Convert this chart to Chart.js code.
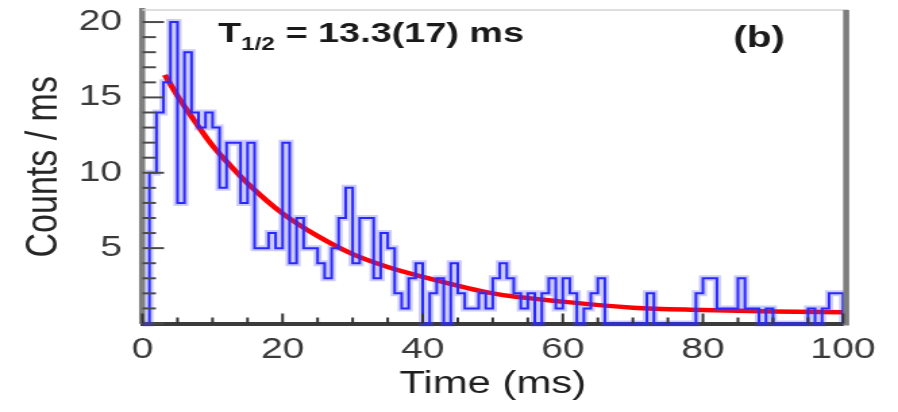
<!DOCTYPE html>
<html>
<head>
<meta charset="utf-8">
<script src="https://cdn.jsdelivr.net/npm/chart.js@4.4.0/dist/chart.umd.min.js"></script>
<style>
  html, body { margin: 0; padding: 0; background: #fff; overflow: hidden; }
  /* the original figure is stretched sideways, so the whole canvas is too */
  #wrap { width: 665px; height: 412px; transform: scaleX(1.35038); transform-origin: 0 0; }
</style>
</head>
<body>
<div id="wrap"><canvas id="decay" width="665" height="412"></canvas></div>
<script>
// ── Datos: histograma de 1 ms por bin, desde 0 ms ──
const counts = [
   0, 10, 14, 16, 20,  8, 18, 14, 13, 14,
  13,  9, 12, 12,  8, 12,  5,  5,  6,  5,
  12,  4,  7,  5,  5,  4,  3,  5,  7,  9,
   4,  7,  7,  3,  6,  5,  2,  1,  3,  4,
   0,  2,  3,  0,  4,  2,  1,  1,  2,  1,
   3,  4,  3,  2,  1,  2,  0,  2,  3,  1,
   3,  2,  0,  1,  2,  3,  0,  0,  0,  0,
   0,  0,  2,  0,  0,  0,  0,  0,  0,  2,
   3,  3,  1,  1,  1,  3,  1,  1,  0,  1,
   0,  0,  0,  0,  0,  1,  0,  1,  2,  2,
];
const binWidth = 1;

// ── Ajuste exponencial ──
const fitTime = [3.2, 5, 7.5, 10, 12.5, 15, 20, 25, 30, 35, 40, 50, 60, 70, 80, 90, 100];
const fitRate = [16.5, 15.1, 13.4, 11.8, 10.5, 9.3, 7.3, 5.8, 4.6, 3.75, 3.1, 2.0, 1.45, 1.05, 0.9, 0.8, 0.75];

const xTickLabels = [0, 20, 40, 60, 80, 100];
const yTickLabels = [5, 10, 15, 20];

const FONT = '"Liberation Sans", Arial, Helvetica, sans-serif';

const histPoints = counts.map((c, i) => ({ x: i * binWidth, y: c }));
const lastEdge = counts.length * binWidth;
histPoints.push({ x: lastEdge, y: counts[counts.length - 1] }, { x: lastEdge, y: 0 });

const fitPoints = fitTime.map((t, i) => ({ x: t, y: fitRate[i] }));

// ── Marco, ticks interiores y textos ──
const frame = {
  id: 'frame',
  afterDatasetsDraw(chart) {
    const { ctx, chartArea: a, scales: { x, y } } = chart;
    ctx.save();
    ctx.lineCap = 'butt';
    // borde superior y derecho
    ctx.strokeStyle = '#d4d4d4'; ctx.lineWidth = 1.5;
    ctx.beginPath(); ctx.moveTo(a.left, a.top); ctx.lineTo(a.right + 4, a.top); ctx.stroke();
    ctx.strokeStyle = '#7d7d7d'; ctx.lineWidth = 4.5;
    ctx.beginPath(); ctx.moveTo(a.right + 2.3, a.top); ctx.lineTo(a.right + 2.3, a.bottom + 2); ctx.stroke();

    // ticks del eje y (hacia dentro)
    ctx.strokeStyle = '#4a4a4a'; ctx.lineWidth = 2;
    for (let v = 0; v <= 20; v++) {
      const py = y.getPixelForValue(v);
      const len = v % 5 === 0 ? 16 : 10;
      ctx.beginPath(); ctx.moveTo(a.left, py); ctx.lineTo(a.left + len, py); ctx.stroke();
    }
    // ticks del eje x (hacia arriba)
    ctx.strokeStyle = '#333'; ctx.lineWidth = 2;
    for (let v = 0; v <= 100; v += 5) {
      const px = x.getPixelForValue(v);
      const len = v % 20 === 0 ? 10 : 6;
      ctx.beginPath(); ctx.moveTo(px, a.bottom); ctx.lineTo(px, a.bottom - len); ctx.stroke();
    }

    // T1/2 = 13.3(17) ms
    ctx.fillStyle = '#1a1a1a';
    ctx.textBaseline = 'alphabetic';
    ctx.font = 'bold 28px ' + FONT;
    let tx = 161.5;
    ctx.fillText('T', tx, 42);
    tx += ctx.measureText('T').width;
    ctx.font = 'bold 18px ' + FONT;
    ctx.fillText('1/2', tx, 50);
    tx += ctx.measureText('1/2').width;
    ctx.font = 'bold 28px ' + FONT;
    ctx.fillText(' = 13.3(17) ms', tx, 42);

    // (b)
    ctx.font = 'bold 30px ' + FONT;
    ctx.fillText('(b)', 543, 47);
    ctx.restore();
  },
};

new Chart(document.getElementById('decay').getContext('2d'), {
  type: 'line',
  data: {
    datasets: [
      { // halo del histograma
        data: histPoints,
        stepped: true,
        borderColor: 'rgba(70,70,255,0.28)', borderWidth: 6,
        pointRadius: 0, fill: false, clip: 5,
      },
      {
        data: histPoints,
        stepped: true,
        borderColor: '#1f1fff', borderWidth: 2,
        pointRadius: 0, fill: false, clip: 5,
      },
      {
        data: fitPoints,
        cubicInterpolationMode: 'monotone',
        borderColor: '#ff0000', borderWidth: 4.5,
        pointRadius: 0, fill: false,
      },
    ],
  },
  options: {
    responsive: false,
    animation: false,
    layout: { padding: { top: 10, right: 40.7, left: 0, bottom: 0 } },
    plugins: { legend: { display: false }, tooltip: { enabled: false } },
    scales: {
      x: {
        type: 'linear', min: 0, max: 100,
        afterBuildTicks: s => { s.ticks = xTickLabels.map(v => ({ value: v })); },
        afterFit: s => { s.height = 88.5; s.paddingLeft = 0; s.paddingRight = 0; },
        ticks: { font: { family: FONT, size: 29 }, color: '#3a3a3a', padding: 9, maxRotation: 0, autoSkip: false },
        grid: { display: false, drawTicks: false },
        border: { display: true, color: '#3b3b3b', width: 4 },
        title: {
          display: true, text: 'Time (ms)', color: '#1e1e1e',
          font: { family: FONT, size: 31 }, padding: { top: 0, bottom: 9.4 },
        },
      },
      y: {
        type: 'linear', min: 0, max: 20.8,
        afterBuildTicks: s => { s.ticks = yTickLabels.map(v => ({ value: v })); },
        afterFit: s => { s.width = 105.5; s.paddingTop = 0; s.paddingBottom = 0; },
        ticks: { font: { family: FONT, size: 29 }, color: '#3a3a3a', padding: 15 },
        grid: { display: false, drawTicks: false },
        border: { display: true, color: '#7f7f7f', width: 4.5 },
        title: {
          display: true, text: 'Counts / ms', color: '#262626',
          font: { family: FONT, size: 34 }, padding: { top: 12.2, bottom: 0 },
        },
      },
    },
  },
  plugins: [frame],
});
</script>
</body>
</html>
